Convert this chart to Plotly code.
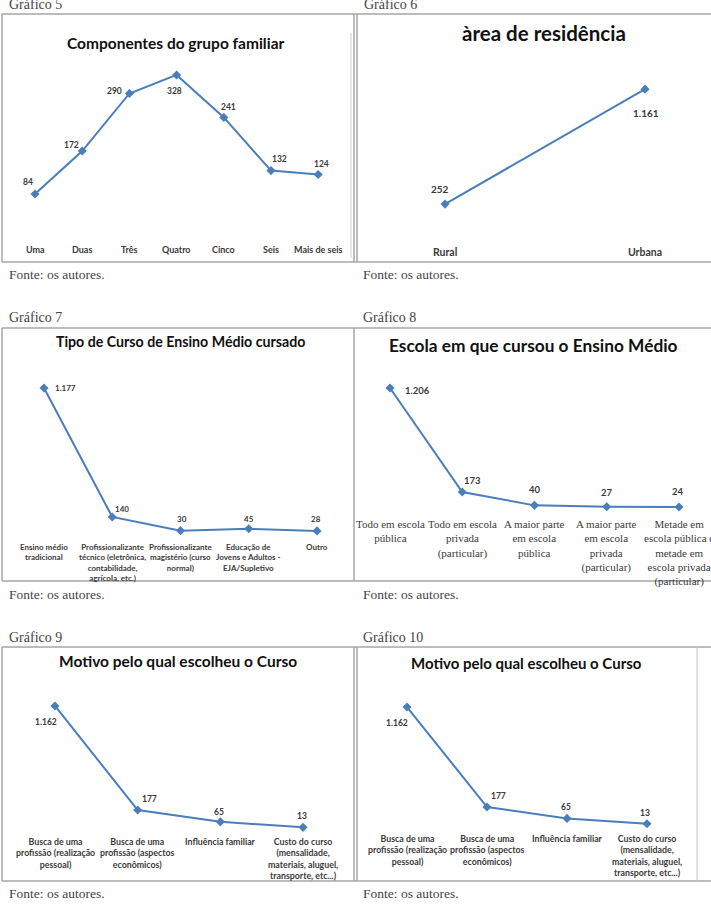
import plotly.graph_objects as go

W, H = 711, 908

# ---------------- data ----------------
g5_categories = ["Uma", "Duas", "Três", "Quatro", "Cinco", "Seis", "Mais de seis"]
g5_values = [84, 172, 290, 328, 241, 132, 124]

g6_categories = ["Rural", "Urbana"]
g6_values = [252, 1161]

g7_categories = ["Ensino médio<br>tradicional",
                 "Profissionalizante<br>técnico (eletrônica,<br>contabilidade,<br>agrícola, etc.)",
                 "Profissionalizante<br>magistério (curso<br>normal)",
                 "Educação de<br>Jovens e Adultos -<br>EJA/Supletivo",
                 "Outro"]
g7_values = [1177, 140, 30, 45, 28]

g8_categories = ["Todo em escola<br>pública",
                 "Todo em escola<br>privada<br>(particular)",
                 "A maior parte<br>em escola<br>pública",
                 "A maior parte<br>em escola<br>privada<br>(particular)",
                 "Metade em<br>escola pública e<br>metade em<br>escola privada<br>(particular)"]
g8_values = [1206, 173, 40, 27, 24]

g9_categories = ["Busca de uma<br>profissão (realização<br>pessoal)",
                 "Busca de uma<br>profissão (aspectos<br>econômicos)",
                 "Influência familiar",
                 "Custo do curso<br>(mensalidade,<br>materiais, aluguel,<br>transporte, etc...)"]
g9_values = [1162, 177, 65, 13]

g10_categories = g9_categories
g10_values = [1162, 177, 65, 13]

titles = ["Componentes do grupo familiar", "àrea de residência",
          "Tipo de Curso de Ensino Médio cursado", "Escola em que cursou o Ensino Médio",
          "Motivo pelo qual escolheu o Curso", "Motivo pelo qual escolheu o Curso"]
captions = ["Gráfico 5", "Gráfico 6", "Gráfico 7", "Gráfico 8", "Gráfico 9", "Gráfico 10"]
source_text = "Fonte: os autores."

# ---------------- styles / layout (pixels) ----------------
BLUE = "#4A7EBB"
LABEL = "#3a3a3a"
BORDER = "#a6a6a6"
SANS = "Lato, 'Open Sans', sans-serif"
SERIF = "'Liberation Serif', 'DejaVu Serif', serif"

# each panel: x-domain px, first-point px, step px, y-domain px, zero px, px per unit
panels = [
    dict(cats=g5_categories, vals=g5_values, xd=(2, 354), x0=35, dx=47.2, yd=(14, 262), zero=235, sc=0.488,
         title=(176, 43, 15.5), cat_y=242, cat_fs=9, cat_font=SANS,
         offs=[(-7, -12), (-11, -6), (-15, -2), (-2, 16), (5, -10), (8, -12), (3, -10)], lab_fs=8.5),
    dict(cats=g6_categories, vals=g6_values, xd=(357, 711), x0=445, dx=200, yd=(14, 262), zero=236, sc=0.1265,
         title=(544, 33, 20.5), cat_y=244, cat_fs=10.5, cat_font=SANS,
         offs=[(-5, -15), (1, 24)], lab_fs=10),
    dict(cats=g7_categories, vals=g7_values, xd=(2, 354), x0=44, dx=68.25, yd=(328, 581), zero=534.4, sc=0.1244,
         title=(180, 341, 14.2), cat_y=540, cat_fs=8, cat_font=SANS,
         offs=[(21, 0), (10, -8), (1, -12), (0, -10), (-1, -12)], lab_fs=8),
    dict(cats=g8_categories, vals=g8_values, xd=(354, 711), x0=390, dx=72.25, yd=(328, 581), zero=509.4, sc=0.1007,
         title=(533, 345, 17.3), cat_y=516, cat_fs=11, cat_font=SERIF,
         offs=[(27, 3), (10, -11), (0, -16), (0, -14), (-1, -15)], lab_fs=9.5),
    dict(cats=g9_categories, vals=g9_values, xd=(2, 354), x0=55, dx=82.67, yd=(647, 881), zero=828.7, sc=0.1056,
         title=(178, 661, 15.5), cat_y=834, cat_fs=8.8, cat_font=SANS,
         offs=[(-9, 16), (12, -11), (-1, -10), (-1, -11)], lab_fs=8.5),
    dict(cats=g10_categories, vals=g10_values, xd=(356, 697), x0=407, dx=80, yd=(647, 881), zero=825, sc=0.1015,
         title=(526, 663, 15), cat_y=831, cat_fs=8.8, cat_font=SANS,
         offs=[(-10, 16), (11, -11), (-1, -11), (-2, -11)], lab_fs=8.5),
]

caption_pos = [(7, 5), (362, 5), (7, 318), (361, 318), (7, 637), (361, 637)]
source_pos = [(7, 275), (361, 275), (7, 594), (361, 594), (7, 893), (361, 893)]


def fx(p):
    return p / W


def fy(p):
    return 1 - p / H


def fmt(v):
    return f"{v:,}".replace(",", ".")


fig = go.Figure()
annotations = []
layout_axes = {}

for i, p in enumerate(panels):
    n = i + 1
    xa = "x" if n == 1 else f"x{n}"
    ya = "y" if n == 1 else f"y{n}"
    xkey = "xaxis" if n == 1 else f"xaxis{n}"
    ykey = "yaxis" if n == 1 else f"yaxis{n}"
    idx = list(range(len(p["vals"])))
    fig.add_trace(go.Scatter(
        x=idx, y=p["vals"], xaxis=xa, yaxis=ya, mode="lines+markers",
        line=dict(color=BLUE, width=2),
        marker=dict(symbol="diamond", size=7, color=BLUE),
        hoverinfo="skip", showlegend=False, cliponaxis=False))
    xl, xr = p["xd"]
    yt, yb = p["yd"]
    layout_axes[xkey] = dict(domain=[fx(xl), fx(xr)],
                             range=[(xl - p["x0"]) / p["dx"], (xr - p["x0"]) / p["dx"]],
                             visible=False, anchor=ya, fixedrange=True)
    layout_axes[ykey] = dict(domain=[fy(yb), fy(yt)],
                             range=[(p["zero"] - yb) / p["sc"], (p["zero"] - yt) / p["sc"]],
                             visible=False, anchor=xa, fixedrange=True)
    # data labels
    for j, v in enumerate(p["vals"]):
        ox, oy = p["offs"][j]
        annotations.append(dict(x=j, y=v, xref=xa, yref=ya, text=fmt(v), showarrow=False,
                                xshift=ox, yshift=-oy,
                                font=dict(family=SANS, size=p["lab_fs"], color=LABEL, weight="bold")))
    # category labels
    for j, c in enumerate(p["cats"]):
        annotations.append(dict(x=j, y=fy(p["cat_y"]), xref=xa, yref="paper", text=c,
                                showarrow=False, yanchor="top", xanchor="center", align="center",
                                font=dict(family=p["cat_font"], size=p["cat_fs"], color=LABEL,
                                          weight="bold" if p["cat_font"] == SANS else "normal")))
    # title
    tx, ty, tfs = p["title"]
    annotations.append(dict(x=fx(tx), y=fy(ty), xref="paper", yref="paper", text=titles[i],
                            showarrow=False, xanchor="center", yanchor="middle",
                            font=dict(family=SANS, size=tfs, color="#111111", weight="bold")))
    # caption and source
    cx, cy = caption_pos[i]
    annotations.append(dict(x=fx(cx), y=fy(cy), xref="paper", yref="paper", text=captions[i],
                            showarrow=False, xanchor="left", yanchor="middle",
                            font=dict(family=SERIF, size=14, color="#444444")))
    sx, sy = source_pos[i]
    annotations.append(dict(x=fx(sx), y=fy(sy), xref="paper", yref="paper", text=source_text,
                            showarrow=False, xanchor="left", yanchor="middle",
                            font=dict(family=SERIF, size=13.5, color="#444444")))


# frame lines
def hline(x0, x1, y, color=BORDER, w=1.5):
    return dict(type="line", xref="paper", yref="paper", x0=fx(x0), x1=fx(x1), y0=fy(y), y1=fy(y),
                line=dict(color=color, width=w))


def vline(x, y0, y1, color=BORDER, w=1.5):
    return dict(type="line", xref="paper", yref="paper", x0=fx(x), x1=fx(x), y0=fy(y0), y1=fy(y1),
                line=dict(color=color, width=w))


shapes = [
    # row 1
    hline(2, 711, 14), hline(2, 711, 262), vline(2, 14, 262), vline(354, 14, 262), vline(357, 14, 262),
    vline(351, 33, 258, color="#d0d0d0", w=1),
    # row 2
    hline(2, 711, 328), hline(2, 711, 581), vline(2, 328, 581), vline(354, 328, 581),
    # row 3
    hline(2, 711, 647), hline(2, 711, 881), vline(2, 647, 881), vline(354, 647, 881), vline(357, 647, 881),
    vline(697, 647, 881, color="#c8c8c8", w=1),
]

fig.update_layout(
    width=W, height=H, margin=dict(l=0, r=0, t=0, b=0),
    paper_bgcolor="white", plot_bgcolor="rgba(0,0,0,0)",
    annotations=annotations, shapes=shapes, showlegend=False,
    **layout_axes)

fig.write_html("out.html", config={"displayModeBar": False},
               post_script="document.body.style.margin='0';document.body.style.overflow='hidden';")
